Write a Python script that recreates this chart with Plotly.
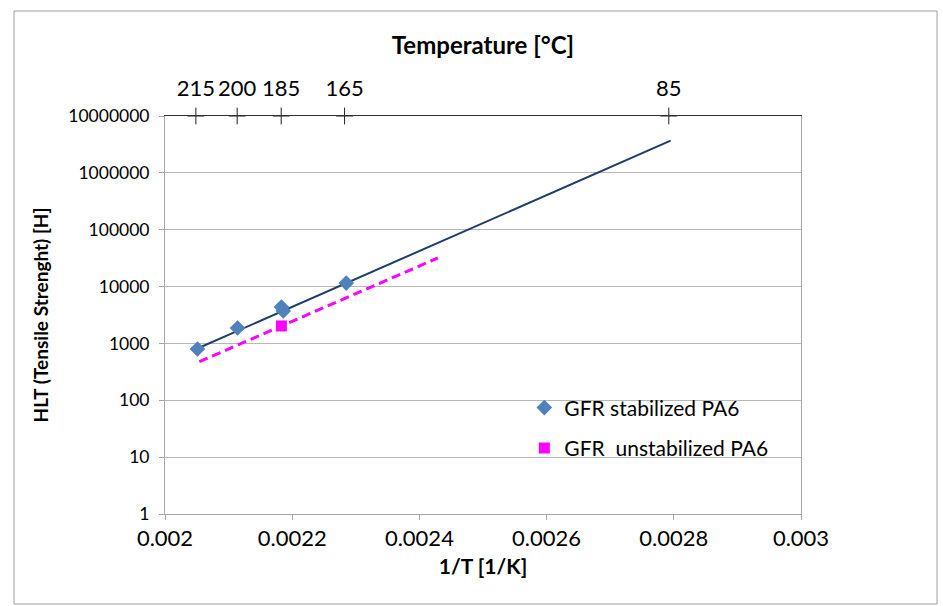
import plotly.graph_objects as go

# ---- data ----
stab_x = [0.002051, 0.002114, 0.002183, 0.002186, 0.002285]
stab_y = [800, 1870, 4370, 3720, 11500]
unstab_x = [0.002183]
unstab_y = [2030]
trend_stab_x = [0.002051, 0.002795]
trend_stab_y = [815, 3.68e6]
trend_unstab_x = [0.002054, 0.002429]
trend_unstab_y = [477, 31800]
top_temps_c = [215, 200, 185, 165, 85]
y_ticks = [1, 10, 100, 1000, 10000, 100000, 1000000, 10000000]
x_ticks = [0.002, 0.0022, 0.0024, 0.0026, 0.0028, 0.003]

top_x = [1.0 / (t + 273.15) for t in top_temps_c]
FONT = "Lato"

fig = go.Figure()
fig.add_trace(go.Scatter(x=trend_stab_x, y=trend_stab_y, mode="lines",
                         line=dict(color="#1F3D6B", width=2), showlegend=False))
fig.add_trace(go.Scatter(x=trend_unstab_x, y=trend_unstab_y, mode="lines",
                         line=dict(color="#FF00FF", width=3, dash="9px,5px"), showlegend=False))
fig.add_trace(go.Scatter(x=stab_x, y=stab_y, mode="markers", name="GFR stabilized PA6",
                         legendgroup="a",
                         marker=dict(symbol="diamond", size=12, color="#4F81BD")))
fig.add_trace(go.Scatter(x=unstab_x, y=unstab_y, mode="markers", name="GFR  unstabilized PA6",
                         legendgroup="b",
                         marker=dict(symbol="square", size=11, color="#FF00FF")))
# cross ticks on the top temperature axis
fig.add_trace(go.Scatter(x=top_x, y=[y_ticks[-1]] * len(top_x), mode="markers",
                         marker=dict(symbol="cross-thin", size=12,
                                     line=dict(color="#202020", width=1)),
                         cliponaxis=False, showlegend=False, hoverinfo="skip"))
# invisible trace to activate the top axis
fig.add_trace(go.Scatter(x=[x_ticks[0], x_ticks[-1]], y=[1, 1], xaxis="x2", mode="markers",
                         marker=dict(opacity=0), showlegend=False, hoverinfo="skip"))

fig.update_layout(
    width=943, height=606,
    margin=dict(l=165, r=142, t=116, b=92),
    paper_bgcolor="white", plot_bgcolor="white",
    font=dict(family=FONT, color="#000000"),
    xaxis=dict(range=[0.002, 0.003], tickvals=x_ticks, ticktext=[str(v) for v in x_ticks],
               showgrid=False, zeroline=False, showline=True, linecolor="#A6A6A6", linewidth=1,
               ticks="outside", ticklen=5, tickcolor="#A6A6A6", tickfont=dict(size=22),
               title=dict(text="<b>1/T [1/K]</b>", font=dict(size=21), standoff=8)),
    xaxis2=dict(range=[0.002, 0.003], overlaying="x", side="top", anchor="y",
                tickvals=top_x, ticktext=[str(t) for t in top_temps_c], tickangle=0,
                showgrid=False, zeroline=False, showline=True, linecolor="#303030", linewidth=1,
                ticks="outside", ticklen=10, tickcolor="rgba(0,0,0,0)", tickfont=dict(size=22),
                title=dict(text="<b>Temperature [°C]</b>", font=dict(size=24), standoff=12)),
    yaxis=dict(type="log", range=[0, 7], tickvals=y_ticks, ticktext=[str(v) for v in y_ticks],
               showgrid=True, gridcolor="#B7B7B7", gridwidth=1, zeroline=False,
               showline=True, linecolor="#A6A6A6", linewidth=1, mirror=True,
               ticks="outside", ticklen=5, tickcolor="#A6A6A6", tickfont=dict(size=17.5),
               ticklabelstandoff=6,
               title=dict(text="<b>HLT (Tensile Strenght) [H]</b>", font=dict(size=19), standoff=14)),
    legend=dict(x=0.565, y=0.318, xanchor="left", yanchor="top", bgcolor="rgba(0,0,0,0)",
                font=dict(size=21), tracegroupgap=10, itemwidth=30),
    shapes=[dict(type="rect", xref="paper", yref="paper",
                 x0=(14 - 165) / 636, x1=(937 - 165) / 636,
                 y0=(514 - 604) / 398, y1=(514 - 11) / 398,
                 line=dict(color="#A0A0A0", width=1), fillcolor="rgba(0,0,0,0)", layer="below")],
)

fig.write_html("out.html")
